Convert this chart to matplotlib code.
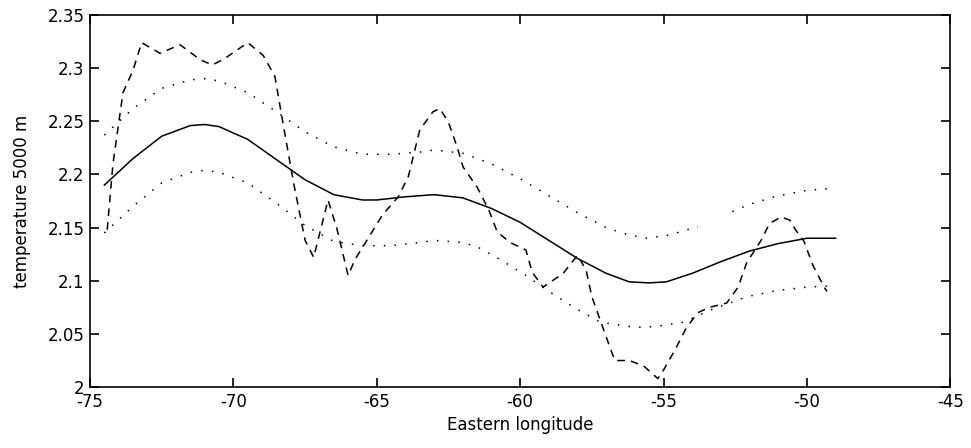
import numpy as np
from matplotlib import pyplot as plt

plt.rcParams['font.family'] = ['DejaVu Sans']

# Smooth fit (solid)
fit_lon = [-74.5, -73.5, -72.5, -71.5, -71.0, -70.5, -69.5, -68.5, -67.5, -66.5,
           -65.5, -65.0, -64.0, -63.0, -62.0, -61.0, -60.0, -59.0, -58.0, -57.0,
           -56.2, -55.5, -54.9, -54.0, -53.0, -52.0, -51.0, -50.0, -49.0]
fit_temp = [2.190, 2.215, 2.236, 2.246, 2.247, 2.245, 2.233, 2.214, 2.195, 2.181,
            2.176, 2.176, 2.179, 2.181, 2.178, 2.168, 2.155, 2.138, 2.121, 2.107,
            2.099, 2.098, 2.099, 2.107, 2.118, 2.128, 2.135, 2.140, 2.140]

# Upper confidence bound (dotted), gap near -53
up_lon = [-74.5, -73.5, -72.5, -71.5, -71.0, -70.5, -69.5, -68.5, -67.5, -66.5,
          -65.5, -64.5, -63.5, -63.0, -62.0, -61.0, -60.0, -59.0, -58.0, -57.0,
          -56.2, -55.6, -54.8, -53.8, np.nan, -52.6, -52.0, -51.0, -50.0, -49.1]
up_temp = [2.237, 2.262, 2.281, 2.289, 2.290, 2.288, 2.277, 2.259, 2.240, 2.226,
           2.219, 2.219, 2.221, 2.223, 2.220, 2.210, 2.196, 2.180, 2.164, 2.150,
           2.143, 2.140, 2.143, 2.151, np.nan, 2.165, 2.172, 2.180, 2.185, 2.187]

# Lower confidence bound (dotted)
lo_lon = [-74.5, -73.5, -72.5, -71.5, -71.0, -70.5, -69.5, -68.5, -67.5, -66.5,
          -65.5, -64.5, -63.5, -63.0, -62.0, -61.5, -60.7, -59.8, -59.0, -58.0,
          -57.2, -56.2, -55.7, -55.0, -54.3, -53.4, -52.1, -51.0, -50.0, -49.3]
lo_temp = [2.145, 2.170, 2.192, 2.202, 2.204, 2.202, 2.192, 2.173, 2.152, 2.137,
           2.133, 2.133, 2.136, 2.138, 2.136, 2.132, 2.120, 2.105, 2.090, 2.073,
           2.061, 2.057, 2.056, 2.058, 2.061, 2.072, 2.085, 2.091, 2.094, 2.095]

# Observations (dashed)
obs_lon = [-74.4, -74.2, -73.85, -73.5, -73.2, -72.56, -71.86, -71.16, -70.74, -70.36,
           -69.5, -68.96, -68.55, -68.27, -67.9, -67.5, -67.2, -66.7, -66.4, -66.0,
           -65.76, -65.3, -64.8, -64.25, -63.9, -63.5, -63.04, -62.8, -62.5, -62.2,
           -61.99, -61.5, -61.1, -60.8, -60.35, -59.8, -59.58, -59.2, -58.5, -58.0,
           -57.7, -57.5, -56.93, -56.7, -56.2, -55.7, -55.2, -55.0, -54.6, -54.2,
           -53.8, -53.4, -52.8, -52.4, -52.1, -51.6, -51.3, -50.9, -50.6, -50.4,
           -50.1, -49.8, -49.4, -49.3]
obs_temp = [2.148, 2.210, 2.277, 2.298, 2.324, 2.314, 2.322, 2.308, 2.303, 2.308,
            2.324, 2.312, 2.292, 2.248, 2.192, 2.138, 2.122, 2.176, 2.150, 2.105,
            2.120, 2.140, 2.162, 2.179, 2.198, 2.242, 2.259, 2.262, 2.249, 2.226,
            2.207, 2.188, 2.167, 2.146, 2.136, 2.129, 2.108, 2.094, 2.107, 2.124,
            2.110, 2.085, 2.042, 2.025, 2.025, 2.020, 2.008, 2.016, 2.035, 2.056,
            2.070, 2.075, 2.079, 2.094, 2.117, 2.138, 2.154, 2.160, 2.157, 2.148,
            2.137, 2.115, 2.094, 2.090]

fig = plt.figure(figsize=(9.71, 4.48), dpi=100)
ax = fig.add_axes([0.0927, 0.136, 0.886, 0.8305])

ax.plot(fit_lon, fit_temp, color='k', lw=1.1, ls='-')
ax.plot(up_lon, up_temp, color='k', lw=1.1, ls=(0, (1, 6)))
ax.plot(lo_lon, lo_temp, color='k', lw=1.1, ls=(0, (1, 6)))
ax.plot(obs_lon, obs_temp, color='k', lw=1.1, ls=(0, (5, 4)))

ax.set_xlim(-75, -45)
ax.set_ylim(2.0, 2.35)
ax.set_xticks(np.arange(-75, -44, 5))
ax.set_yticks(np.arange(2.0, 2.351, 0.05))
ax.set_xticklabels(['-75', '-70', '-65', '-60', '-55', '-50', '-45'])
ax.set_yticklabels(['2', '2.05', '2.1', '2.15', '2.2', '2.25', '2.3', '2.35'])
ax.tick_params(direction='in', top=True, right=True, length=6.5, width=1.2,
               labelsize=12, pad=4)
for s in ax.spines.values():
    s.set_linewidth(1.2)

ax.set_xlabel('Eastern longitude', fontsize=12, va='center')
ax.set_ylabel('temperature 5000 m', fontsize=12, va='center')
ax.xaxis.set_label_coords(0.5, -0.102)
ax.yaxis.set_label_coords(-0.079, 0.5)

fig.savefig('out.png', dpi=100)
